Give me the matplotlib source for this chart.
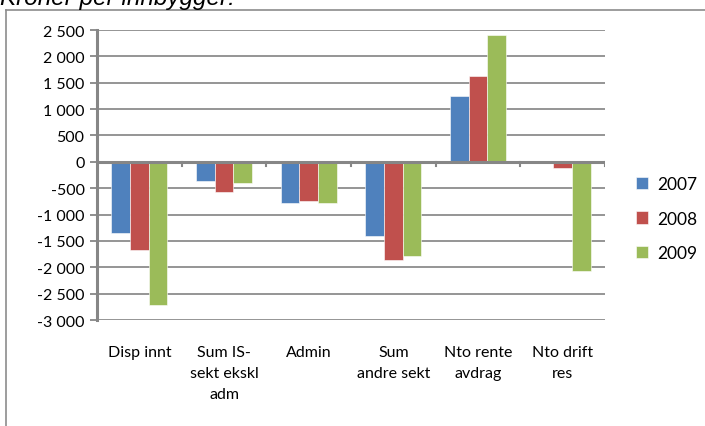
import matplotlib.pyplot as plt
import numpy as np

plt.rcParams['font.family'] = ['Lato', 'DejaVu Sans']

categories = ['Disp innt', 'Sum IS-\nsekt ekskl\nadm', 'Admin', 'Sum\nandre sekt', 'Nto rente\navdrag', 'Nto drift\nres']
y2007 = [-1350, -370, -790, -1400, 1240, 0]
y2008 = [-1680, -570, -740, -1870, 1630, -110]
y2009 = [-2720, -400, -790, -1790, 2400, -2070]
years = ['2007', '2008', '2009']
colors = ['#4F81BD', '#C0504D', '#9BBB59']

yticks = list(range(-3000, 3000, 500))
ytick_labels = ['{:,}'.format(v).replace(',', ' ') for v in yticks]

fig = plt.figure(figsize=(7.05, 4.27), dpi=100)
ax = fig.add_axes([0.1376, 0.2482, 0.7206, 0.6792])

x = np.arange(len(categories))
w = 0.22
for i, (vals, c, lab) in enumerate(zip([y2007, y2008, y2009], colors, years)):
    ax.bar(x + (i - 1) * w, vals, w, color=c, label=lab, zorder=3,
           edgecolor='white', linewidth=0.4)

ax.set_xlim(-0.5, len(categories) - 0.5)
ax.set_ylim(-3000, 2500)
ax.set_yticks(yticks)
ax.set_yticklabels(ytick_labels, fontsize=11.5)
ax.yaxis.grid(True, color='#8c8c8c', linewidth=1.3, zorder=0)
ax.set_axisbelow(True)

for s in ['top', 'right', 'bottom']:
    ax.spines[s].set_visible(False)
ax.spines['left'].set_color('#868686')
ax.spines['left'].set_linewidth(2.2)
ax.axhline(0, color='#868686', linewidth=2.2, zorder=4)

ax.tick_params(axis='y', length=5, width=1.3, color='#868686', pad=4)
# category labels placed under the plot, ticks on zero line
ax.set_xticks([])
for xb in np.arange(0.5, len(categories), 1.0):
    ax.plot([xb, xb], [0, -70], color='#868686', linewidth=1.5, zorder=4)
for xi, name in zip(x, categories):
    ax.text(xi, -3470, name, ha='center', va='top', fontsize=11.5, linespacing=1.65)

ax.legend(loc='center left', bbox_to_anchor=(1.03, 0.35), frameon=False,
          fontsize=12.5, handlelength=0.7, handleheight=0.7, labelspacing=1.05,
          handletextpad=0.5)

# outer chart frame
fig.add_artist(plt.Line2D([6 / 705, 6 / 705], [0, 1 - 11 / 427], color='#8c8c8c', linewidth=1.2))
fig.add_artist(plt.Line2D([6 / 705, 1], [1 - 11 / 427, 1 - 11 / 427], color='#8c8c8c', linewidth=1.2))

fig.text(0.0, 1 - 4.5 / 427, 'Kroner per innbygger:', fontsize=17.5, style='italic',
         va='baseline', ha='left', family='Liberation Sans')

plt.savefig('out.png', dpi=100)
